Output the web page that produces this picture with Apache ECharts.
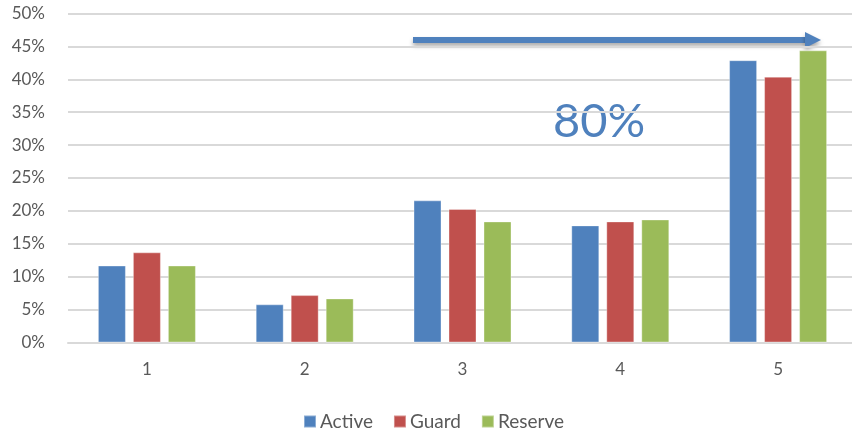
<!DOCTYPE html>
<html>
<head>
<meta charset="utf-8">
<script src="https://cdn.jsdelivr.net/npm/echarts@6/dist/echarts.min.js"></script>
<style>
  html, body { margin: 0; padding: 0; background: #fff; overflow: hidden; }
  /* the reference plot area runs a few pixels past the right edge */
  #chart { width: 857px; height: 432px; }
</style>
</head>
<body>
<div id="chart"></div>
<script>
// categories and values (percent)
let categories = ['1', '2', '3', '4', '5']
let activeValues = [11.7, 5.8, 21.6, 17.8, 42.9]
let guardValues = [13.7, 7.2, 20.3, 18.4, 40.4]
let reserveValues = [11.7, 6.7, 18.4, 18.7, 44.4]
let seriesNames = ['Active', 'Guard', 'Reserve']
let seriesColors = ['#4F81BD', '#C0504D', '#9BBB59']
let annotationText = '80%'

let font = 'Lato, "Open Sans", sans-serif'
let chart = echarts.init(document.getElementById('chart'))

let makeBar = function (name, values, color) {
  return {
    name: name,
    type: 'bar',
    data: values,
    barWidth: 28,
    barGap: '25%',
    itemStyle: {
      color: color,
      borderColor: 'rgba(255,255,255,0.35)',
      borderWidth: 1
    }
  }
}

chart.setOption({
  animation: false,
  backgroundColor: '#fff',
  grid: {
    left: 68,
    top: 13.5,
    right: 0,
    height: 329
  },
  legend: {
    left: 298,
    top: 407,
    itemWidth: 12,
    itemHeight: 12,
    itemGap: 20,
    icon: 'rect',
    textStyle: {
      color: '#595959',
      fontSize: 19,
      fontFamily: font,
      padding: [0, 0, 0, -1]
    },
    data: seriesNames
  },
  xAxis: {
    type: 'category',
    data: categories,
    axisTick: { show: false },
    axisLine: { lineStyle: { color: '#D9D9D9', width: 2 } },
    axisLabel: {
      color: '#595959',
      fontSize: 17,
      fontFamily: font,
      margin: 19
    }
  },
  yAxis: {
    type: 'value',
    min: 0,
    max: 50,
    interval: 5,
    axisLine: { show: false },
    axisTick: { show: false },
    splitLine: { lineStyle: { color: '#D9D9D9', width: 2 } },
    axisLabel: {
      color: '#595959',
      fontSize: 17,
      fontFamily: font,
      margin: 23,
      formatter: '{value}%'
    }
  },
  graphic: [
    {
      type: 'group',
      silent: true,
      children: [
        {
          type: 'rect',
          shape: { x: 413, y: 37, width: 394, height: 6 },
          style: {
            fill: '#4F81BD',
            shadowBlur: 4,
            shadowOffsetY: 3,
            shadowColor: 'rgba(0,0,0,0.35)'
          }
        },
        {
          type: 'polygon',
          shape: { points: [[805, 32], [821, 40], [805, 48]] },
          style: {
            fill: '#4F81BD',
            shadowBlur: 4,
            shadowOffsetY: 3,
            shadowColor: 'rgba(0,0,0,0.35)'
          }
        }
      ]
    },
    {
      type: 'text',
      left: 553,
      top: 98,
      silent: true,
      style: {
        text: annotationText,
        fill: '#4F81BD',
        fontSize: 47,
        fontFamily: font
      }
    }
  ],
  series: [
    makeBar(seriesNames[0], activeValues, seriesColors[0]),
    makeBar(seriesNames[1], guardValues, seriesColors[1]),
    makeBar(seriesNames[2], reserveValues, seriesColors[2])
  ]
})
</script>
</body>
</html>
